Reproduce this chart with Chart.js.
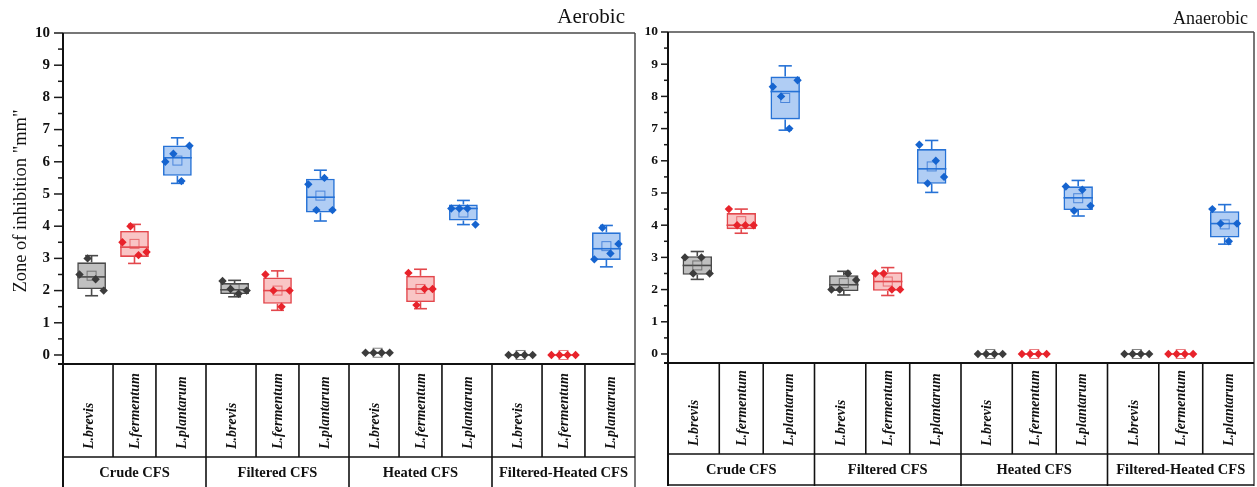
<!DOCTYPE html>
<html>
<head>
<meta charset="utf-8">
<script src="https://cdn.jsdelivr.net/npm/chart.js@4.4.1/dist/chart.umd.min.js"></script>
<style>
  html, body { margin: 0; padding: 0; background: #fff; }
  #wrap { position: relative; width: 1257px; height: 487px; overflow: hidden; background: #fff; }
  #aerobic { position: absolute; left: 0; top: 0; }
  #anaerobic { position: absolute; left: 640px; top: 0; }
</style>
</head>
<body>
<div id="wrap">
  <canvas id="aerobic" width="640" height="487" style="width:640px;height:487px"></canvas>
  <canvas id="anaerobic" width="617" height="487" style="width:617px;height:487px"></canvas>
</div>
<script>
// Treatments (x groups), strains (boxes within a group) and y tick labels
const groups = ['Crude CFS', 'Filtered CFS', 'Heated CFS', 'Filtered-Heated CFS'];
const species = ['L.brevis', 'L.fermentum', 'L.plantarum'];
const yTicks = [0, 1, 2, 3, 4, 5, 6, 7, 8, 9, 10];

// Zone of inhibition (mm), four replicates per treatment, aerobic incubation
const aeroBrevis    = [[2.5, 3.0, 2.35, 2.0], [2.3, 2.05, 1.9, 2.0], [0.07, 0.07, 0.07, 0.07], [0, 0, 0, 0]];
const aeroFermentum = [[3.5, 4.0, 3.1, 3.2], [2.5, 2.0, 1.5, 2.0], [2.55, 1.55, 2.05, 2.05], [0, 0, 0, 0]];
const aeroPlantarum = [[6.0, 6.25, 5.4, 6.5], [5.3, 4.5, 5.5, 4.5], [4.55, 4.55, 4.55, 4.05], [2.97, 3.95, 3.15, 3.45]];

// Zone of inhibition (mm), four replicates per treatment, anaerobic incubation
const anaeBrevis    = [[3.0, 2.5, 3.0, 2.5], [2.0, 2.0, 2.5, 2.3], [0, 0, 0, 0], [0, 0, 0, 0]];
const anaeFermentum = [[4.5, 4.0, 4.0, 4.0], [2.5, 2.5, 2.0, 2.0], [0, 0, 0, 0], [0, 0, 0, 0]];
const anaePlantarum = [[8.3, 8.0, 7.0, 8.5], [6.5, 5.3, 6.0, 5.5], [5.2, 4.45, 5.1, 4.6], [4.5, 4.05, 3.5, 4.05]];

const SERIF = "'Liberation Serif', 'Times New Roman', serif";
const palette = {
  edge: ['#4a4a4a', '#e3474c', '#2672d6'],
  fill: ['rgba(150,150,150,0.6)', 'rgba(240,110,110,0.4)', 'rgba(80,145,230,0.45)'],
  dot:  ['#3c3c3c', '#e8232b', '#1664cf'],
  mean: ['rgba(90,90,90,0.75)', 'rgba(225,80,85,0.75)', 'rgba(40,110,210,0.75)']
};

// Box = mean ± SD, whiskers = mean ± 1.5 SD, line = median
function boxStats(v) {
  const n = v.length;
  const mean = v.reduce((a, b) => a + b, 0) / n;
  const sd = Math.sqrt(v.reduce((a, b) => a + (b - mean) ** 2, 0) / (n - 1));
  const s = [...v].sort((a, b) => a - b);
  const med = n % 2 ? s[(n - 1) / 2] : (s[n / 2 - 1] + s[n / 2]) / 2;
  return { mean, med, lo: mean - sd, hi: mean + sd, wlo: mean - 1.5 * sd, whi: mean + 1.5 * sd };
}

function seg(ctx, x1, y1, x2, y2) {
  ctx.beginPath(); ctx.moveTo(x1, y1); ctx.lineTo(x2, y2); ctx.stroke();
}

// Whiskers, median, mean marker and replicate points on top of each floating bar
const boxParts = {
  id: 'boxParts',
  afterDatasetsDraw(chart, args, opts) {
    const ctx = chart.ctx, y = chart.scales.y;
    opts.reps.forEach((perGroup, d) => {
      const meta = chart.getDatasetMeta(d);
      meta.data.forEach((bar, g) => {
        const vals = perGroup[g], st = boxStats(vals);
        const x = bar.x, w = bar.width;
        const yLo = y.getPixelForValue(st.lo), yHi = y.getPixelForValue(st.hi);
        const yWl = y.getPixelForValue(st.wlo), yWh = y.getPixelForValue(st.whi);
        const cap = w * 0.45;
        ctx.save();
        ctx.strokeStyle = palette.edge[d];
        ctx.lineWidth = 1.6;
        seg(ctx, x, yHi, x, yWh);
        seg(ctx, x, yLo, x, yWl);
        seg(ctx, x - cap / 2, yWh, x + cap / 2, yWh);
        seg(ctx, x - cap / 2, yWl, x + cap / 2, yWl);
        const yMed = y.getPixelForValue(st.med);
        seg(ctx, x - w / 2, yMed, x + w / 2, yMed);
        // mean: hollow square
        const yMean = y.getPixelForValue(st.mean);
        ctx.strokeStyle = palette.mean[d];
        ctx.lineWidth = 1;
        ctx.strokeRect(x - 4.5, yMean - 4.5, 9, 9);
        // replicates: filled diamonds spread across the box
        ctx.fillStyle = palette.dot[d];
        const step = w * 0.28, r = 4.2;
        vals.forEach((v, j) => {
          const px = x + (j - (vals.length - 1) / 2) * step;
          const py = y.getPixelForValue(v);
          ctx.beginPath();
          ctx.moveTo(px, py - r); ctx.lineTo(px + r, py);
          ctx.lineTo(px, py + r); ctx.lineTo(px - r, py);
          ctx.closePath(); ctx.fill();
        });
        ctx.restore();
      });
    });
  }
};

// Axis frame, minor/major y ticks, the two-row category table and titles
const frame = {
  id: 'frame',
  afterDraw(chart, args, o) {
    const ctx = chart.ctx, a = chart.chartArea, y = chart.scales.y;
    const rowBottom = a.bottom + o.rowH;
    ctx.save();
    // y ticks
    ctx.strokeStyle = '#1a1a1a';
    ctx.lineWidth = 1.5;
    for (let k = Math.ceil(y.min * 2); k <= y.max * 2; k++) {
      const v = k / 2, py = y.getPixelForValue(v);
      const len = k % 2 === 0 ? o.major : o.minor;
      seg(ctx, a.left - len, py, a.left, py);
    }
    // plot frame
    ctx.strokeStyle = '#4a4a4a';
    ctx.lineWidth = 1.5;
    seg(ctx, a.left, a.top, a.right, a.top);
    seg(ctx, a.right, a.top, a.right, o.tableBottom);
    ctx.strokeStyle = '#111';
    ctx.lineWidth = 2;
    seg(ctx, a.left, a.top, a.left, o.tableBottom);
    seg(ctx, a.left - o.minor, a.bottom, a.right, a.bottom);
    ctx.lineWidth = 1.6;
    seg(ctx, a.left, rowBottom, a.right, rowBottom);
    if (o.closed) seg(ctx, a.left, o.tableBottom - 1, a.right, o.tableBottom - 1);

    // table cells
    const metas = species.map((s, d) => chart.getDatasetMeta(d).data);
    const groupEdges = [a.left];
    for (let g = 0; g < groups.length - 1; g++) {
      groupEdges.push((metas[2][g].x + metas[0][g + 1].x) / 2);
    }
    groupEdges.push(a.right);
    ctx.fillStyle = '#111';
    for (let g = 0; g < groups.length; g++) {
      const cellEdges = [groupEdges[g]];
      for (let d = 0; d < species.length - 1; d++) {
        cellEdges.push((metas[d][g].x + metas[d + 1][g].x) / 2);
      }
      cellEdges.push(groupEdges[g + 1]);
      for (let d = 1; d < species.length; d++) seg(ctx, cellEdges[d], a.bottom, cellEdges[d], rowBottom);
      if (g > 0) seg(ctx, groupEdges[g], a.bottom, groupEdges[g], o.tableBottom);
      // strain names, rotated
      ctx.font = 'italic bold 14px ' + SERIF;
      ctx.textAlign = 'left';
      ctx.textBaseline = 'middle';
      species.forEach((name, d) => {
        const cx = (cellEdges[d] + cellEdges[d + 1]) / 2;
        ctx.save();
        ctx.translate(cx + 1, rowBottom - 8);
        ctx.rotate(-Math.PI / 2);
        ctx.fillText(name, 0, 0);
        ctx.restore();
      });
      // treatment names
      ctx.font = 'bold 14.5px ' + SERIF;
      ctx.textAlign = 'center';
      ctx.fillText(groups[g], (groupEdges[g] + groupEdges[g + 1]) / 2, o.groupLabelY);
    }

    // panel title
    ctx.font = o.titleFont;
    ctx.textAlign = 'right';
    ctx.textBaseline = 'alphabetic';
    ctx.fillText(o.title, o.titleX, o.titleY);

    // y axis title
    if (o.yTitle) {
      ctx.save();
      ctx.font = '18.5px ' + SERIF;
      ctx.textAlign = 'center';
      ctx.textBaseline = 'middle';
      ctx.translate(o.yTitleX, o.yTitleY);
      ctx.rotate(-Math.PI / 2);
      ctx.fillText(o.yTitle, 0, 0);
      ctx.restore();
    }
    ctx.restore();
  }
};

function makePanel(canvasId, reps, axisWidth, tickFont, tickPad, padding, frameOpts) {
  const datasets = species.map((name, d) => ({
    label: name,
    data: reps[d].map(v => { const st = boxStats(v); return [st.lo, st.hi]; }),
    backgroundColor: palette.fill[d],
    borderColor: palette.edge[d],
    borderWidth: 1.6,
    borderSkipped: false,
    categoryPercentage: 0.9,
    barPercentage: 0.67
  }));
  return new Chart(document.getElementById(canvasId), {
    type: 'bar',
    data: { labels: groups, datasets },
    options: {
      responsive: false,
      animation: false,
      layout: { padding },
      scales: {
        x: { type: 'category', display: false, offset: true },
        y: {
          type: 'linear',
          min: -0.28,
          max: 10,
          afterBuildTicks: s => { s.ticks = yTicks.map(v => ({ value: v })); },
          afterFit: s => { s.width = axisWidth; },
          grid: { display: false, drawTicks: false },
          border: { display: false },
          ticks: {
            padding: tickPad,
            color: '#111',
            font: { family: SERIF, size: tickFont, weight: 'bold' },
            callback: v => String(v)
          }
        }
      },
      plugins: {
        legend: { display: false },
        tooltip: { enabled: false },
        boxParts: { reps },
        frame: frameOpts
      }
    },
    plugins: [boxParts, frame]
  });
}

makePanel('aerobic', [aeroBrevis, aeroFermentum, aeroPlantarum], 63, 15, 13,
  { top: 33, right: 5, bottom: 123, left: 0 },
  { major: 9, minor: 5, rowH: 93, tableBottom: 487, closed: false, groupLabelY: 473,
    title: 'Aerobic', titleFont: '21px ' + SERIF, titleX: 625, titleY: 23,
    yTitle: 'Zone of inhibition "mm"', yTitleX: 21, yTitleY: 201 });

makePanel('anaerobic', [anaeBrevis, anaeFermentum, anaePlantarum], 28, 13.5, 10,
  { top: 32, right: 3, bottom: 124, left: 0 },
  { major: 7, minor: 4, rowH: 91, tableBottom: 486, closed: true, groupLabelY: 470,
    title: 'Anaerobic', titleFont: '18px ' + SERIF, titleX: 608, titleY: 24,
    yTitle: '' });
</script>
</body>
</html>
